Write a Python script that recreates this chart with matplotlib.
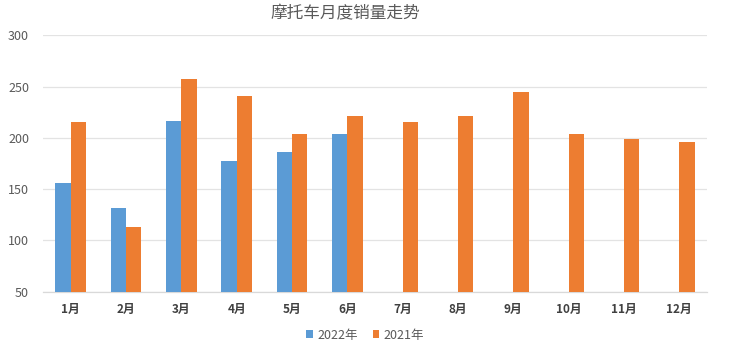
import numpy as np
import matplotlib
matplotlib.use("Agg")
import matplotlib.pyplot as plt

plt.rcParams['font.family'] = ['Noto Sans CJK SC', 'DejaVu Sans']

months = ["1月", "2月", "3月", "4月", "5月", "6月", "7月", "8月", "9月", "10月", "11月", "12月"]
sales_2022 = [156, 132, 216, 177, 186, 204, np.nan, np.nan, np.nan, np.nan, np.nan, np.nan]
sales_2021 = [215, 113, 257, 241, 204, 221, 215, 221, 245, 204, 199, 196]
y_ticks = [50, 100, 150, 200, 250, 300]

blue = "#5B9BD5"
orange = "#ED7D31"
text_gray = "#595959"

fig = plt.figure(figsize=(7.3, 3.49), dpi=100)
ax = fig.add_axes([43 / 730, 1 - 291.7 / 349, 664 / 730, 256.4 / 349])

x = np.arange(len(months))
w = 0.277
ax.bar(x - w / 2, sales_2022, width=w, color=blue, label="2022年", zorder=3)
ax.bar(x + w / 2, sales_2021, width=w, color=orange, label="2021年", zorder=3)

ax.set_xlim(-0.5, len(months) - 0.5)
ax.set_ylim(50, 300)
ax.set_yticks(y_ticks)
ax.set_xticks(x)
ax.set_xticklabels(months, fontweight="bold", fontsize=8.5, color="#404040")
ax.tick_params(axis="y", labelsize=9, colors=text_gray, length=0, pad=10)
ax.tick_params(axis="x", length=0, pad=8)
for lab in ax.get_yticklabels():
    lab.set_color(text_gray)

ax.grid(axis="y", color="#E3E3E3", linewidth=0.9, zorder=0)
for side in ["top", "right", "left"]:
    ax.spines[side].set_visible(False)
ax.spines["bottom"].set_color("#D9D9D9")
ax.spines["bottom"].set_linewidth(0.9)

fig.text(345 / 730, 1 - 14 / 349, "摩托车月度销量走势", ha="center", va="center",
         fontsize=12, color=text_gray)

fig.legend(loc="center", bbox_to_anchor=(0.5, 1 - 335 / 349), ncol=2, frameon=False,
           fontsize=9, handlelength=0.55, handleheight=0.55, handletextpad=0.3,
           columnspacing=1.2, labelcolor=text_gray)

fig.savefig("out.png", dpi=100, facecolor="white")
